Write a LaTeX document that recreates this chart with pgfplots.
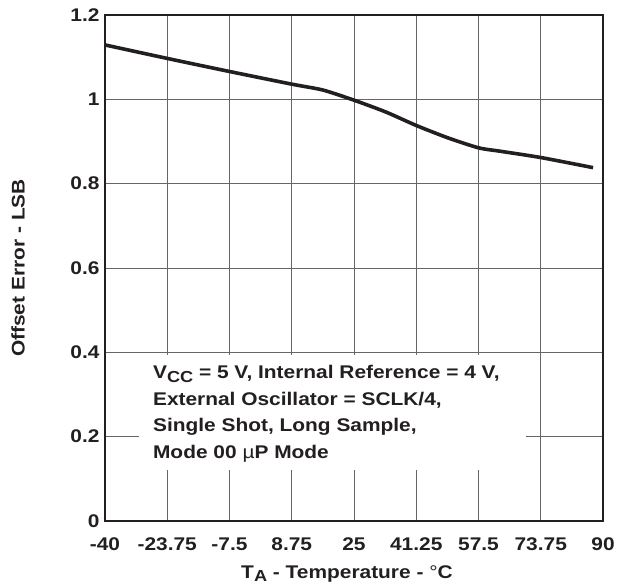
\documentclass[border=0pt]{standalone}
\usepackage{fontspec}
\setmainfont{Liberation Sans}[FakeStretch=1.14]
\usepackage{pgfplots}
\pgfplotsset{compat=1.18}
\definecolor{ink}{HTML}{231F20}
\newcommand{\lbl}{\fontsize{18.4}{26.5}\selectfont\bfseries}
\newcommand{\sub}[1]{\raisebox{-0.35ex}{\fontsize{16}{16}\selectfont #1}}
\begin{document}
\begin{tikzpicture}
\begin{axis}[
  scale only axis,
  width=498bp, height=506bp,
  xmin=-40, xmax=90, ymin=0, ymax=1.2,
  xtick={-40,-23.75,-7.5,8.75,25,41.25,57.5,73.75,90},
  xticklabels={-40,-23.75,-7.5,8.75,25,41.25,57.5,73.75,90},
  ytick={0,0.2,0.4,0.6,0.8,1,1.2},
  yticklabels={0,0.2,0.4,0.6,0.8,1,1.2},
  grid=major,
  major grid style={line width=0.9bp, color=black!60},
  major tick length=0pt,
  axis line style={line width=2bp, ink},
  tick label style={font=\lbl, text=ink},
  xticklabel style={anchor=base, yshift=-29bp},
  yticklabel style={xshift=-2bp},
  every axis y label/.style={at={(axis description cs:0,0.5)}, rotate=90,
    anchor=center, yshift=87bp, font=\lbl, text=ink},
  every axis x label/.style={at={(axis description cs:0.5,0)}, anchor=base,
    yshift=-57bp, xshift=-7bp, font=\lbl, text=ink},
  xlabel={T\sub{A} - Temperature - {\mdseries °}C},
  ylabel={Offset Error - LSB},
]
\addplot[ink, line width=3.6bp, smooth, tension=0.4] coordinates {
  (-40,1.129) (-23.75,1.097) (-7.5,1.066) (8.75,1.036) (16.9,1.022)
  (25,0.998) (33.3,0.970) (41.25,0.938) (49.4,0.909) (57.5,0.885)
  (63.1,0.877) (73.75,0.862) (87.4,0.838)
};
\fill[white] (axis cs:-31.1,0.121) rectangle (axis cs:69.9,0.394);
\node[anchor=base west, align=left, inner sep=0pt, font=\lbl, text=ink]
  at (axis cs:-27.5,0.149)
  {V\sub{CC} = 5 V, Internal Reference = 4 V,\\
   External Oscillator = SCLK/4,\\
   Single Shot, Long Sample,\\
   Mode 00 {\mdseries µ}P Mode};
\end{axis}
\pgfresetboundingbox
\path[use as bounding box]
  ([shift={(-105bp,-66bp)}]current axis.south west)
  rectangle ([shift={(23bp,15bp)}]current axis.north east);
\end{tikzpicture}
\end{document}
